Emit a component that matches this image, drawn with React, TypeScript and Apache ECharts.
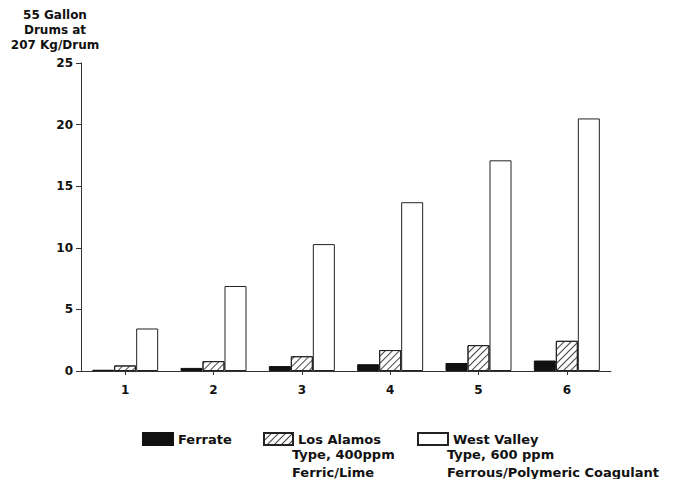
import React, { useEffect, useRef } from "react";
import * as echarts from "echarts";

const categories = ["1", "2", "3", "4", "5", "6"];
const ferrate = [0.1, 0.25, 0.4, 0.55, 0.65, 0.85];
const losAlamos = [0.45, 0.8, 1.2, 1.7, 2.1, 2.45];
const westValley = [3.45, 6.9, 10.3, 13.7, 17.1, 20.5];
const yTicks = [0, 5, 10, 15, 20, 25];
const seriesNames = ["Ferrate", "Los Alamos", "West Valley"];
const losAlamosExtra = ["Type, 400ppm", "Ferric/Lime"];
const westValleyExtra = ["Type, 600 ppm", "Ferrous/Polymeric Coagulant"];
const yTitle = ["55 Gallon", "Drums at", "207 Kg/Drum"];

const FONT = "DejaVu Sans";

export default function App() {
  const ref = useRef<HTMLDivElement>(null);
  useEffect(() => {
    if (!ref.current) return;
    const chart = echarts.init(ref.current, null, { renderer: "svg" });
    const txt = { fontFamily: FONT, fontSize: 12, fontWeight: "bold" as const, color: "#111" };
    const hatch = {
      symbol: "rect",
      symbolSize: 1,
      color: "#444",
      backgroundColor: "#fff",
      dashArrayX: [1, 0],
      dashArrayY: [1, 4],
      rotation: -Math.PI / 4,
    };
    const legendBase = {
      orient: "horizontal" as const,
      top: 427,
      itemHeight: 12,
      itemGap: 5,
      icon: "rect",
      textStyle: { ...txt, fontSize: 13 },
      selectedMode: false,
    };
    chart.setOption({
      animation: false,
      backgroundColor: "#fff",
      grid: { left: 81, top: 63, width: 530, height: 308, containLabel: false },
      xAxis: {
        type: "category",
        data: categories,
        axisLine: { show: true, lineStyle: { color: "#333", width: 1 } },
        axisTick: { show: true, alignWithLabel: true, length: 4, lineStyle: { color: "#333" } },
        axisLabel: { ...txt, margin: 13 },
      },
      yAxis: {
        type: "value",
        min: yTicks[0],
        max: yTicks[yTicks.length - 1],
        interval: 5,
        splitLine: { show: false },
        axisLine: { show: true, lineStyle: { color: "#333", width: 1 } },
        axisTick: { show: true, length: 5, lineStyle: { color: "#333" } },
        axisLabel: { ...txt, margin: 8 },
      },
      legend: [
        { ...legendBase, left: 137, itemWidth: 30, data: [seriesNames[0]] },
        { ...legendBase, left: 258, itemWidth: 29, data: [seriesNames[1]] },
        { ...legendBase, left: 412, itemWidth: 30, data: [seriesNames[2]] },
      ],
      series: [
        {
          name: seriesNames[0],
          type: "bar",
          data: ferrate,
          barWidth: 22,
          barGap: "0%",
          itemStyle: { color: "#111", borderColor: "#111", borderWidth: 1 },
        },
        {
          name: seriesNames[1],
          type: "bar",
          data: losAlamos,
          barWidth: 22,
          barGap: "0%",
          itemStyle: { color: "#fff", borderColor: "#222", borderWidth: 1, decal: hatch },
        },
        {
          name: seriesNames[2],
          type: "bar",
          data: westValley,
          barWidth: 22,
          barGap: "0%",
          itemStyle: { color: "#fff", borderColor: "#222", borderWidth: 1 },
        },
      ],
      graphic: [
        {
          type: "text",
          x: 55,
          y: 7,
          style: {
            text: yTitle.join("\n"),
            align: "center",
            lineHeight: 15,
            font: `bold 12px "${FONT}"`,
            fill: "#111",
          },
        },
        {
          type: "text",
          x: 292,
          y: 445,
          style: { text: losAlamosExtra.join("\n"), lineHeight: 18, font: `bold 13px "${FONT}"`, fill: "#111" },
        },
        {
          type: "text",
          x: 447,
          y: 445,
          style: { text: westValleyExtra.join("\n"), lineHeight: 18, font: `bold 13px "${FONT}"`, fill: "#111" },
        },
      ],
    });
    return () => chart.dispose();
  }, []);
  return <div ref={ref} style={{ width: 682, height: 479, position: "absolute", left: 0, top: 0 }} />;
}
